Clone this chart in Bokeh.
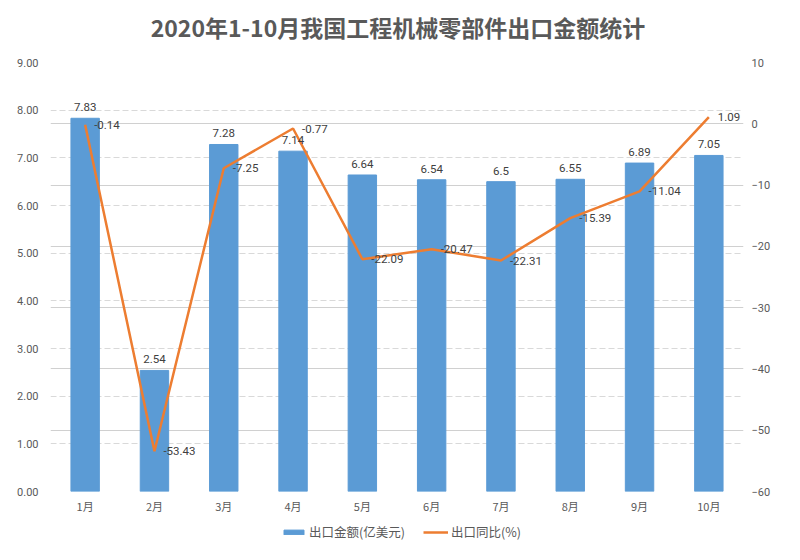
from bokeh.plotting import figure
from bokeh.layouts import column
from bokeh.models import (ColumnDataSource, Range1d, LinearAxis, FixedTicker, Div,
                          NumeralTickFormatter, Grid, Legend, LegendItem, LabelSet, FactorRange)
from bokeh.core.properties import value
from bokeh.embed import file_html
from bokeh.resources import INLINE

months = ["1月", "2月", "3月", "4月", "5月", "6月", "7月", "8月", "9月", "10月"]
export_amount = [7.83, 2.54, 7.28, 7.14, 6.64, 6.54, 6.5, 6.55, 6.89, 7.05]
yoy_growth = [-0.14, -53.43, -7.25, -0.77, -22.09, -20.47, -22.31, -15.39, -11.04, 1.09]
amount_labels = ["7.83", "2.54", "7.28", "7.14", "6.64", "6.54", "6.5", "6.55", "6.89", "7.05"]
yoy_labels = ["-0.14", "-53.43", "-7.25", "-0.77", "-22.09", "-20.47", "-22.31", "-15.39", "-11.04", "1.09"]
left_ticks = [0, 1, 2, 3, 4, 5, 6, 7, 8, 9]
right_ticks = [-60, -50, -40, -30, -20, -10, 0, 10]
series_names = ["出口金额(亿美元)", "出口同比(%)"]
title_text = "2020年1-10月我国工程机械零部件出口金额统计"

FONT = "Noto Sans CJK SC"
NUMFONT = "Roboto"
GRAY = "#595959"
BLUE = "#5B9BD5"
ORANGE = "#ED7D31"

src = ColumnDataSource(dict(m=months, amt=export_amount, yoy=yoy_growth,
                            al=amount_labels, yl=yoy_labels))

# title strip
title = Div(text=('<div style="font-family:\'Noto Sans CJK SC\';font-size:23px;font-weight:bold;'
                  'color:#595959;text-align:center;width:784px;padding-top:14px;padding-left:12px;'
                  'box-sizing:border-box;line-height:1.2;">' + title_text + '</div>'),
            width=784, height=52, margin=0)

p = figure(x_range=FactorRange(*months), y_range=Range1d(0, 9),
           width=784, height=470, output_backend="svg", toolbar_location=None,
           min_border_left=50, min_border_right=41, min_border_top=10, min_border_bottom=31)
p.extra_y_ranges = {"y2": Range1d(-60, 10)}

p.outline_line_color = None
p.xgrid.grid_line_color = None
p.ygrid.ticker = FixedTicker(ticks=left_ticks)
p.ygrid.grid_line_color = "#d9d9d9"
p.ygrid.grid_line_dash = "6 3"
p.ygrid.grid_line_width = 1

g2 = Grid(dimension=1, ticker=FixedTicker(ticks=right_ticks), y_range_name="y2",
          grid_line_color="#d0d0d0", grid_line_width=1)
p.add_layout(g2)

bars = p.vbar(x="m", top="amt", width=0.41, source=src, color=BLUE)
line = p.line(x="m", y="yoy", source=src, y_range_name="y2",
              line_color=ORANGE, line_width=2.5)

# left axis
ya = p.yaxis[0]
ya.ticker = FixedTicker(ticks=left_ticks)
ya.formatter = NumeralTickFormatter(format="0.00")
ya.axis_line_color = None
ya.major_tick_line_color = None
ya.minor_tick_line_color = None
ya.major_label_text_color = GRAY
ya.major_label_text_font = NUMFONT
ya.major_label_text_font_size = "11px"
ya.major_label_standoff = 6

ra = LinearAxis(y_range_name="y2", ticker=FixedTicker(ticks=right_ticks),
                axis_line_color=None, major_tick_line_color=None, minor_tick_line_color=None,
                major_label_text_color=GRAY, major_label_text_font=NUMFONT,
                major_label_text_font_size="11px", major_label_standoff=2)
p.add_layout(ra, "right")

xa = p.xaxis[0]
xa.axis_line_color = None
xa.major_tick_line_color = None
xa.minor_tick_line_color = None
xa.major_label_text_color = GRAY
xa.major_label_text_font = FONT
xa.major_label_text_font_size = "11px"
xa.major_label_standoff = 0

bar_lbl = LabelSet(x="m", y="amt", text="al", source=src, text_align="center",
                   text_baseline="bottom", y_offset=7, text_font=value(NUMFONT),
                   text_font_size=value("11.5px"), text_color="#404040")
p.add_layout(bar_lbl)
line_lbl = LabelSet(x="m", y="yoy", text="yl", source=src, y_range_name="y2",
                    text_align="left", text_baseline="middle", x_offset=9,
                    text_font=value(NUMFONT), text_font_size=value("11.5px"), text_color="#404040")
p.add_layout(line_lbl)

# legend strip below the chart (its series sit outside the strip's visible range)
lg = figure(width=784, height=24, x_range=FactorRange(*months), y_range=Range1d(100, 101),
            output_backend="svg", toolbar_location=None, min_border=0,
            x_axis_location=None, y_axis_location=None)
lg.grid.visible = False
lg.outline_line_color = None
r_bar = lg.vbar(x="m", top="amt", width=0.4, source=src, color=BLUE)
r_line = lg.line(x="m", y="yoy", source=src, line_color=ORANGE, line_width=2.5)
legend = Legend(items=[LegendItem(label=series_names[0], renderers=[r_bar]),
                       LegendItem(label=series_names[1], renderers=[r_line])],
                orientation="horizontal", location=(231, 5),
                label_text_font=FONT, label_text_font_size="12.5px", label_text_color=GRAY,
                border_line_color=None, background_fill_alpha=0,
                glyph_width=25, glyph_height=6, spacing=18, padding=2, margin=0,
                label_standoff=3)
lg.add_layout(legend)

layout = column(title, p, lg, spacing=0)
open("out.html", "w").write(file_html(layout, INLINE))
